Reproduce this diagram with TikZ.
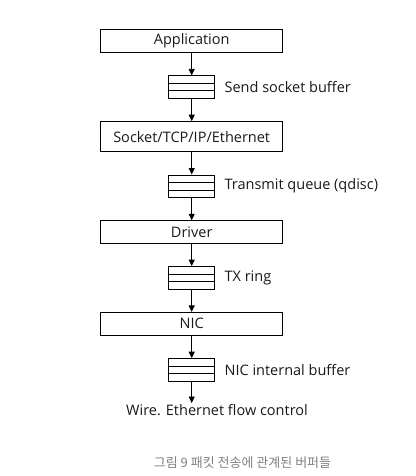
\documentclass[tikz,border=0pt]{standalone}
\usepackage{fontspec}
\setmainfont{Open Sans}
\newfontfamily\kofont{Noto Sans CJK KR}
\usetikzlibrary{arrows.meta, positioning}

\begin{document}
\begin{tikzpicture}[
        % styles
        node distance = 22.5pt,
        every node/.style = {font=\fontsize{14.5}{17}\selectfont, text=black!90},
        % layers of the stack
        layer/.style = {
            rectangle,
            draw=black,
            line width=0.8pt,
            minimum width=182pt,
            minimum height=23pt,
            inner sep=0pt
        },
        % queue symbol with three slots
        buffer/.style = {
            rectangle,
            draw=black,
            line width=0.8pt,
            minimum width=46pt,
            minimum height=22.5pt,
            inner sep=0pt,
            path picture={
                \foreach \k in {1,2}
                    \draw [line width=0.8pt]
                        ([yshift=-\k*7.5pt]path picture bounding box.north west) --
                        ([yshift=-\k*7.5pt]path picture bounding box.north east);
            }
        },
        % text beside a buffer
        tag/.style = {right=6pt of #1},
        % arrows
        arrow/.style = {
            -{Triangle[width=6pt, length=6.5pt]},
            line width=0.8pt,
            draw=black
        }
    ]

        \useasboundingbox (0,0) rectangle (415pt,-476pt);

        % 1. stack and buffers
        \node (app)     [layer] at (191.7pt,-41pt) {Application};
        \node (sockbuf) [buffer, below=of app] {};
        \node (sock)    [layer, minimum height=30pt, below=of sockbuf] {Socket/TCP/IP/Ethernet};
        \node (qdisc)   [buffer, below=of sock] {};
        \node (driver)  [layer, minimum height=22.5pt, below=of qdisc] {Driver};
        \node (txring)  [buffer, below=of driver] {};
        \node (nic)     [layer, below=of txring] {NIC};
        \node (nicbuf)  [buffer, below=of nic] {};
        \coordinate [below=21.5pt of nicbuf] (wireend);

        % 2. labels
        \node (sockbuflbl) [tag=sockbuf] {Send socket buffer};
        \node (qdisclbl)   [tag=qdisc] {Transmit queue (qdisc)};
        \node (txringlbl)  [tag=txring] {TX ring};
        \node (nicbuflbl)  [tag=nicbuf] {NIC internal buffer};
        \node (wire) [anchor=north west, inner xsep=0pt, inner ysep=1pt] at ([xshift=-65.7pt]wireend) {Wire. Ethernet flow control};

        % 3. arrows
        \draw [arrow] (app) -- (sockbuf);
        \draw [arrow] (sockbuf) -- (sock);
        \draw [arrow] (sock) -- (qdisc);
        \draw [arrow] (qdisc) -- (driver);
        \draw [arrow] (driver) -- (txring);
        \draw [arrow] (txring) -- (nic);
        \draw [arrow] (nic) -- (nicbuf);
        \draw [arrow] (nicbuf) -- (wireend);

        % caption
        \node (caption) at (242.5pt,-463pt) [font=\kofont\fontsize{13}{15}\selectfont, text=black!50] {그림 9 패킷 전송에 관계된 버퍼들};

    \end{tikzpicture}
\end{document}
